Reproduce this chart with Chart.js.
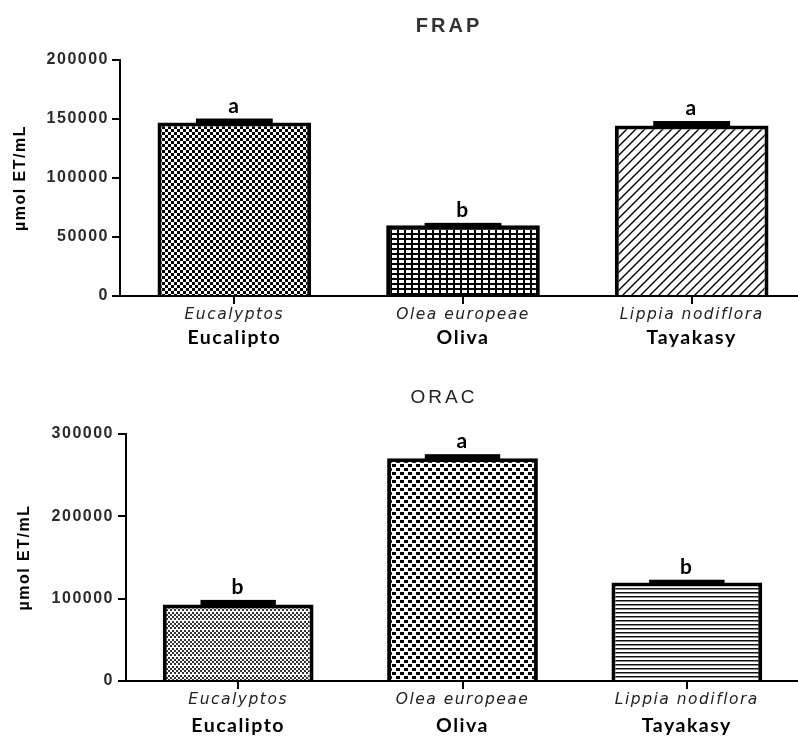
<!DOCTYPE html>
<html>
<head>
<meta charset="utf-8">
<script src="https://cdn.jsdelivr.net/npm/chart.js@4.4.1/dist/chart.umd.min.js"></script>
<style>
  html, body { margin: 0; padding: 0; background: #fff; overflow: hidden; }
  canvas { display: block; }
</style>
</head>
<body>
<canvas id="frapChart" width="810" height="360"></canvas>
<canvas id="oracChart" width="810" height="377"></canvas>
<script>
// categories (two label lines: species + common name)
const species = ['Eucalyptos', 'Olea europeae', 'Lippia nodiflora'];
const commonNames = ['Eucalipto', 'Oliva', 'Tayakasy'];

// FRAP panel
const frapMeans = [147000, 60000, 144500];
const frapSem = [3400, 2000, 3800];
const frapLetters = ['a', 'b', 'a'];

// ORAC panel
const oracMeans = [93000, 270500, 119500];
const oracSem = [5500, 5000, 3500];
const oracLetters = ['b', 'a', 'b'];

const yLabel = 'µmol ET/mL';

// small repeating tiles used as bar fills
function makePattern(w, h, draw) {
  const c = document.createElement('canvas');
  c.width = w;
  c.height = h;
  const g = c.getContext('2d');
  g.fillStyle = '#fff';
  g.fillRect(0, 0, w, h);
  draw(g);
  return g.createPattern(c, 'repeat');
}

const checkSmall = makePattern(6, 6, g => {
  g.fillStyle = '#000';
  g.fillRect(0, 0, 3, 3);
  g.fillRect(3, 3, 3, 3);
});
const gridFine = makePattern(7, 5, g => {
  g.fillStyle = '#000';
  g.fillRect(0, 0, 7, 5);
  g.fillStyle = '#fff';
  g.fillRect(0, 0, 5, 3);
});
const diagonal = makePattern(9, 9, g => {
  g.strokeStyle = '#000';
  g.lineWidth = 1.4;
  g.beginPath();
  g.moveTo(-1, 10); g.lineTo(10, -1);
  g.moveTo(-1, 1); g.lineTo(1, -1);
  g.moveTo(8, 10); g.lineTo(10, 8);
  g.stroke();
});
const dotsGray = makePattern(4, 9, g => {
  g.fillStyle = '#333';
  g.fillRect(0, 0, 2, 2);
  g.fillRect(2, 2, 2, 2);
  g.fillRect(0, 4, 2, 2);
  g.fillRect(2, 6, 2, 2);
});
const checkLarge = makePattern(8, 8, g => {
  g.fillStyle = '#000';
  g.fillRect(0, 0, 4, 3);
  g.fillRect(4, 4, 4, 3);
});
const hLines = makePattern(4, 4, g => {
  g.fillStyle = '#111';
  g.fillRect(0, 0, 4, 1);
  g.fillStyle = '#888';
  g.fillRect(0, 1, 4, 1);
});

// error caps, significance letters and panel title
const panelExtras = {
  id: 'panelExtras',
  beforeDraw(chart) {
    chart.ctx.letterSpacing = '1.5px';
  },
  afterDatasetsDraw(chart, args, opts) {
    const ctx = chart.ctx;
    const y = chart.scales.y;
    const ds = chart.data.datasets[0];
    const meta = chart.getDatasetMeta(0);
    ctx.save();
    meta.data.forEach((bar, i) => {
      const yMean = y.getPixelForValue(ds.data[i]);
      const yTop = y.getPixelForValue(ds.data[i] + ds.errors[i]);
      const capW = bar.width * 0.5;
      ctx.fillStyle = '#000';
      ctx.fillRect(bar.x - capW / 2, yTop, capW, yMean - yTop + 2);
      ctx.font = 'bold 21px Lato';
      ctx.textAlign = 'center';
      ctx.textBaseline = 'alphabetic';
      ctx.fillText(ds.letters[i], bar.x, yTop - 6);
    });
    ctx.font = opts.font;
    ctx.fillStyle = opts.color;
    ctx.letterSpacing = '3px';
    ctx.textAlign = 'center';
    ctx.textBaseline = 'alphabetic';
    ctx.fillText(opts.text, opts.x, opts.y);
    ctx.restore();
  }
};

function buildChart(id, cfg) {
  return new Chart(document.getElementById(id), {
    type: 'bar',
    data: {
      labels: species,
      datasets: [{
        data: cfg.means,
        errors: cfg.sem,
        letters: cfg.letters,
        backgroundColor: cfg.fills,
        borderColor: '#000',
        borderWidth: 4,
        barPercentage: 0.672,
        categoryPercentage: 1
      }]
    },
    options: {
      responsive: false,
      animation: false,
      layout: { padding: cfg.padding },
      plugins: {
        legend: { display: false },
        tooltip: { enabled: false },
        panelExtras: cfg.title
      },
      scales: {
        x: {
          weight: 0,
          grid: { offset: false, drawOnChartArea: false, tickLength: 8, color: '#000', lineWidth: 2 },
          border: { display: true, color: '#000', width: 2 },
          ticks: {
            padding: cfg.xPad,
            color: '#222',
            font: { family: 'DejaVu Sans', style: 'italic', size: 15.5 }
          },
          afterFit: s => { s.height = 30; }
        },
        x2: {
          type: 'category',
          position: 'bottom',
          weight: 1,
          labels: commonNames,
          offset: true,
          grid: { display: false, drawTicks: false },
          border: { display: false },
          ticks: {
            padding: cfg.x2Pad,
            color: '#000',
            font: { family: 'Lato', weight: 'bold', size: 19.5 }
          },
          afterFit: s => { s.height = cfg.x2Height; }
        },
        y: {
          min: 0,
          max: cfg.max,
          grid: { drawOnChartArea: false, tickLength: 8, color: '#000', lineWidth: 2 },
          border: { display: true, color: '#000', width: 2 },
          ticks: {
            stepSize: cfg.step,
            padding: cfg.yPad,
            color: '#2a2a2a',
            font: { family: 'Liberation Sans', weight: 'bold', size: 16 },
            callback: v => String(v)
          },
          title: {
            display: true,
            text: yLabel,
            color: '#000',
            font: { family: 'Liberation Sans', weight: 'bold', size: 16 },
            padding: { top: cfg.yTitlePad, bottom: 0 }
          },
          afterFit: s => { s.width = cfg.yWidth; }
        }
      }
    },
    plugins: [panelExtras]
  });
}

buildChart('frapChart', {
  means: frapMeans,
  sem: frapSem,
  letters: frapLetters,
  fills: [checkSmall, gridFine, diagonal],
  max: 200000,
  step: 50000,
  padding: { top: 60, right: 4, bottom: 4, left: 0 },
  yWidth: 120,
  yPad: 3,
  yTitlePad: 11,
  xPad: 2,
  x2Pad: 0,
  x2Height: 30,
  title: { text: 'FRAP', x: 449, y: 32, font: 'bold 20px "Liberation Sans"', color: '#333' }
});

buildChart('oracChart', {
  means: oracMeans,
  sem: oracSem,
  letters: oracLetters,
  fills: [dotsGray, checkLarge, hLines],
  max: 300000,
  step: 100000,
  padding: { top: 74, right: 11, bottom: 0, left: 0 },
  yWidth: 126,
  yPad: 4,
  yTitlePad: 15,
  xPad: 2,
  x2Pad: 3,
  x2Height: 26,
  title: { text: 'ORAC', x: 444, y: 43, font: '19px "Liberation Sans"', color: '#222' }
});
</script>
</body>
</html>
